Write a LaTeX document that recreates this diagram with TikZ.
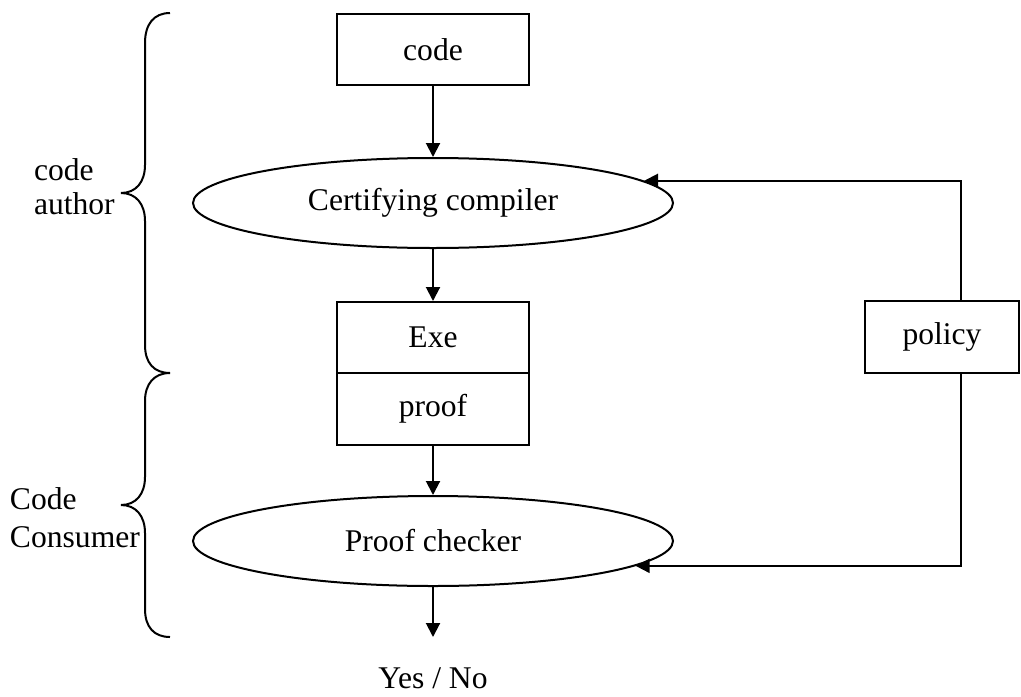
\documentclass[tikz,border=0pt]{standalone}
\usepackage{fontspec}
\setmainfont{Liberation Serif}
\usetikzlibrary{arrows.meta,shapes.geometric}
\begin{document}
\begin{tikzpicture}[x=0.5pt,y=-0.5pt,line width=1pt,
  txt/.style={font=\fontsize{15.8}{16}\selectfont},
  box/.style={txt,draw,rectangle,minimum width=96pt,minimum height=35.5pt,inner sep=0pt},
  oval/.style={txt,draw,ellipse,minimum width=240pt,minimum height=45pt,inner sep=0pt},
  arr/.style={-{Triangle[length=7pt,width=7pt]}},
  lbl/.style={txt,anchor=base west,inner sep=0pt}]
\useasboundingbox (0,0) rectangle (1021,696);
% nodes
\node[box] (code) at (433,49.5) {code};
\node[oval] (cc) at (433,203) {Certifying compiler};
\node[box] (exe) at (433,337.5) {Exe};
\node[box,minimum height=36pt] (proof) at (433,409) {proof};
\node[oval] (pc) at (433,541) {Proof checker};
\node[box,minimum width=77pt,minimum height=36pt] (pol) at (942,337) {policy};
\coordinate (out) at (433,637);
\node[txt,anchor=base,inner sep=0pt] (yn) at (433,688) {Yes / No};
% connectors
\draw[arr] (code) -- (cc);
\draw[arr] (cc) -- (exe);
\draw[arr] (proof) -- (pc);
\draw[arr] (pc) -- (out);
\draw[arr] ([xshift=9.5pt]pol.north) |- (cc.6);
\draw[arr] ([xshift=9.5pt]pol.south) |- (pc.-7);
% braces
\draw (170,13) .. controls (154,13) and (145,24) .. (145,43) -- (145,165)
  .. controls (145,182) and (136,193) .. (121,193)
  .. controls (136,193) and (145,204) .. (145,221) -- (145,345)
  .. controls (145,363) and (154,373) .. (170,373);
\draw (170,373) .. controls (154,373) and (145,384) .. (145,401) -- (145,477)
  .. controls (145,494) and (136,505) .. (121,505)
  .. controls (136,505) and (145,516) .. (145,533) -- (145,609)
  .. controls (145,627) and (154,637) .. (170,637);
% labels
\node[lbl] (l1) at (33,180) {code};
\node[lbl] (l2) at (33,214) {author};
\node[lbl] (l3) at (9,509) {Code};
\node[lbl] (l4) at (9,547) {Consumer};
\end{tikzpicture}
\end{document}
